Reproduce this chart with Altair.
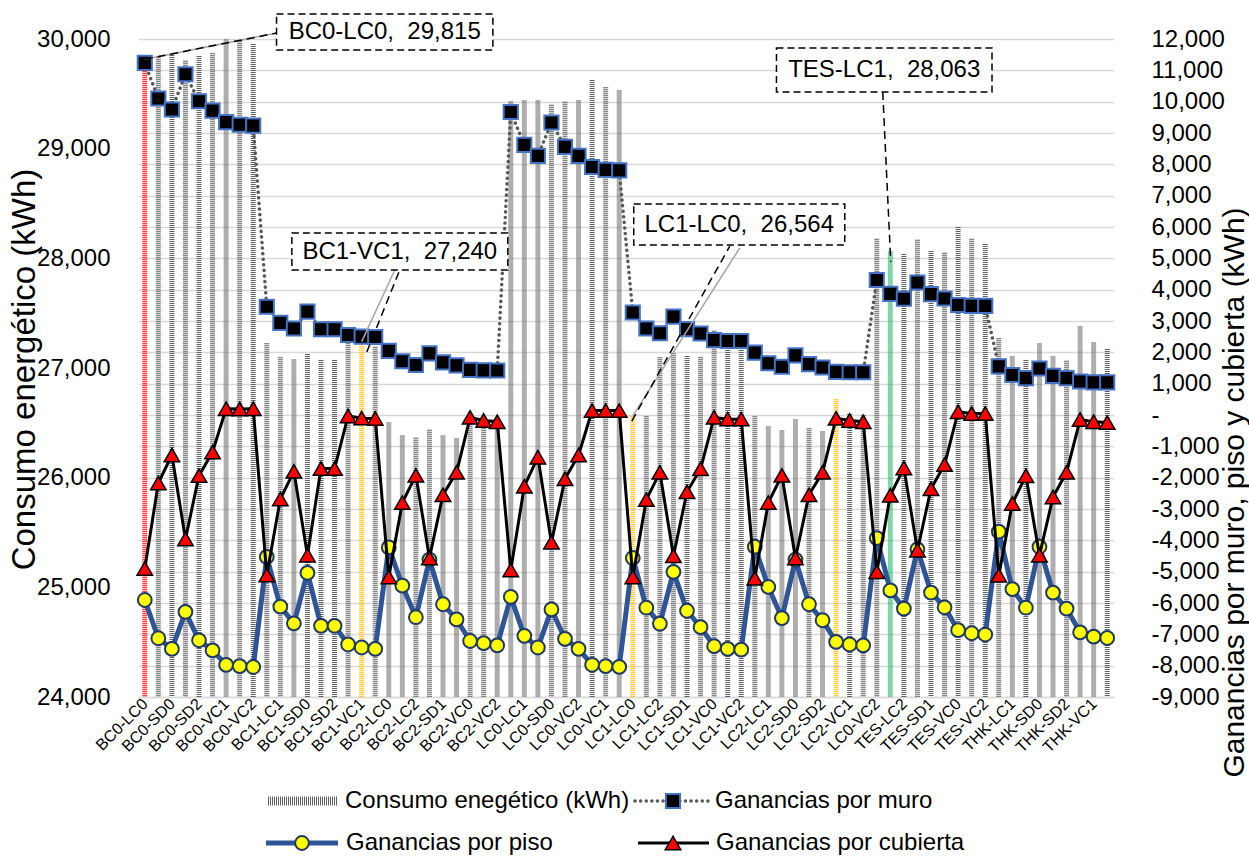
import altair as alt
import pandas as pd

# ---------------- data ----------------
consumo = [
    29815, 29833, 29854, 29802, 29845, 29870, 29995, 29985, 29955,
    27225, 27097, 27078, 27127, 27072, 27072, 27225, 27240, 27194,
    26503, 26384, 26365, 26436, 26384, 26357, 26582, 26542, 26522,
    29430, 29440, 29440, 29400, 29428, 29440, 29626, 29560, 29530,
    26564, 26560, 27097, 27134, 27110, 27097, 27340, 27163, 27163,
    26560, 26466, 26430, 26530, 26450, 26420, 26715, 26580, 26570,
    28178, 28063, 28040, 28170, 28068, 28052, 28285, 28178, 28131,
    27271, 27106, 27074, 27224, 27106, 27067, 27378, 27232, 27173]

muro = [
    11240, 10100, 9750, 10875, 10015, 9715, 9345, 9265, 9235,
    3455, 2940, 2760, 3297, 2735, 2735, 2553, 2500, 2490,
    2045, 1715, 1595, 1968, 1680, 1585, 1440, 1425, 1420,
    9670, 8620, 8270, 9336, 8555, 8270, 7915, 7825, 7805,
    3270, 2760, 2610, 3140, 2740, 2600, 2390, 2360, 2360,
    1990, 1650, 1540, 1905, 1625, 1515, 1378, 1363, 1363,
    4310, 3865, 3710, 4228, 3857, 3719, 3511, 3484, 3484,
    1551, 1276, 1179, 1483, 1248, 1179, 1068, 1041, 1041]

piso = [
    -5904, -7125, -7466, -6282, -7190, -7510, -7975, -8014, -8042,
    -4528, -6117, -6650, -5040, -6730, -6730, -7324, -7420, -7462,
    -4225, -5447, -6454, -4618, -6040, -6523, -7213, -7282, -7351,
    -5805, -7048, -7420, -6206, -7144, -7462, -7972, -8014, -8041,
    -4563, -6151, -6661, -5005, -6247, -6771, -7379, -7462, -7489,
    -4204, -5488, -6482, -4618, -6040, -6551, -7241, -7324, -7351,
    -3928, -5598, -6178, -4287, -5667, -6137, -6868, -6965, -7006,
    -3721, -5557, -6151, -4204, -5667, -6178, -6937, -7075, -7117]

cubierta = [
    -4900, -2172, -1278, -3960, -1935, -1181, 200, 190, 200,
    -5110, -2680, -1800, -4475, -1710, -1710, -30, -100, -110,
    -5170, -2796, -1927, -4563, -2548, -1830, -77, -174, -215,
    -4950, -2272, -1347, -4066, -2037, -1278, 140, 140, 140,
    -5170, -2700, -1830, -4494, -2451, -1720, -77, -132, -132,
    -5211, -2796, -1927, -4563, -2548, -1830, -105, -174, -215,
    -5005, -2562, -1692, -4315, -2355, -1582, 102, 47, 47,
    -5115, -2824, -1941, -4480, -2617, -1830, -146, -215, -243]

tick_labels = [
    "BC0-LC0", "BC0-SD0", "BC0-SD2", "BC0-VC1", "BC0-VC2", "BC1-LC1", "BC1-SD0",
    "BC1-SD2", "BC1-VC1", "BC2-LC0", "BC2-LC2", "BC2-SD1", "BC2-VC0", "BC2-VC2",
    "LC0-LC1", "LC0-SD0", "LC0-VC2", "LC0-VC1", "LC1-LC0", "LC1-LC2", "LC1-SD1",
    "LC1-VC0", "LC1-VC2", "LC2-LC1", "LC2-SD0", "LC2-SD2", "LC2-VC1", "LC0-VC2",
    "TES-LC2", "TES-SD1", "TES-VC0", "TES-VC2", "THK-LC1", "THK-SD0", "THK-SD2",
    "THK-VC1"]

series_names = ["Consumo enegético (kWh)", "Ganancias por muro",
                "Ganancias por piso", "Ganancias por cubierta"]

# annotated bars: index and name
annot_idx = [0, 16, 36, 55]
annot_names = ["BC0-LC0", "BC1-VC1", "LC1-LC0", "TES-LC1"]

# ---------------- styling ----------------
FONT = "Liberation Sans"
W, H = 976, 658
highlight = {0: "#FF0000", 16: "#FFC000", 36: "#FFC000", 51: "#FFC000", 55: "#00B050"}
BAR_GRAY = "#5f5f5f"

n = len(consumo)
idx = list(range(n))
bars = pd.DataFrame({"i": idx, "v": consumo,
                     "col": [highlight.get(k, BAR_GRAY) for k in idx]})
long = pd.DataFrame({
    "i": idx * 3,
    "s": ["muro"] * n + ["piso"] * n + ["cub"] * n,
    "v": muro + piso + cubierta,
})

lbl_js = "[" + ",".join("'%s'" % s for s in tick_labels) + "]"
x_axis = alt.Axis(
    values=list(range(0, n, 2)), labelExpr=lbl_js + "[round(datum.value / 2)]",
    labelAngle=-45, labelAlign="right", labelBaseline="middle", labelPadding=4,
    labelFontSize=16, labelColor="#000000", labelFlush=False, labelOverlap=False,
    grid=False, ticks=False, domain=True, domainColor="#D9D9D9", domainWidth=1.5,
    title=None)
x_scale = alt.Scale(domain=[-0.5, n - 0.5], nice=False, zero=False)

left_scale = alt.Scale(domain=[24000, 30000], nice=False, zero=False)
right_scale = alt.Scale(domain=[-9000, 12000], nice=False, zero=False)

left_axis = alt.Axis(
    values=list(range(24000, 30001, 1000)), labelExpr="format(datum.value, ',')",
    labelFontSize=24, labelColor="#000000", labelPadding=28, labelFlush=False,
    labelOverlap=False, grid=False, ticks=False, domain=False,
    title="Consumo energético (kWh)", titleFontSize=33, titleFontWeight="normal",
    titleColor="#000000", titleX=-114, titleY=330, titleAngle=270,
    titleBaseline="middle", titleAlign="center")

right_axis = alt.Axis(
    orient="right", values=list(range(-9000, 12001, 1000)),
    labelExpr="datum.value == 0 ? '-' : (datum.value < 0 ? '-' : '') + format(abs(datum.value), ',')",
    labelFontSize=24, labelColor="#000000", labelPadding=37, labelAlign="left",
    labelFlush=False, labelOverlap=False, grid=True, gridColor="#D9D9D9",
    gridWidth=1.5, ticks=False, domain=False,
    title="Ganancias por muro, piso y cubierta (kWh)", titleFontSize=30,
    titleFontWeight="normal", titleColor="#000000", titleX=120, titleY=453,
    titleAngle=270, titleBaseline="middle", titleAlign="center")

X = alt.X("i:Q", scale=x_scale, axis=x_axis)

# ---------------- bars (left axis) ----------------
bar_layer = alt.Chart(bars).mark_rule(strokeWidth=5, strokeDash=[1, 1]).encode(
    x=X,
    y=alt.Y("v:Q", scale=left_scale, axis=left_axis),
    y2=alt.datum(24000),
    color=alt.Color("col:N", scale=None),
)
left = alt.layer(bar_layer)

# ---------------- lines (right axis) ----------------
YR = alt.Y("v:Q", scale=right_scale, axis=right_axis)
rb = alt.Chart(long)
muro_line = rb.transform_filter("datum.s == 'muro'").mark_line(
    color="#595959", strokeWidth=3.5, strokeDash=[0.1, 5.5], strokeCap="round").encode(x=X, y=YR)
muro_pts = rb.transform_filter("datum.s == 'muro'").mark_point(
    shape="square", filled=True, fill="#000000", stroke="#4472C4", strokeWidth=2,
    size=200, opacity=1).encode(x=X, y=YR)
piso_line = rb.transform_filter("datum.s == 'piso'").mark_line(
    color="#2F5597", strokeWidth=5).encode(x=X, y=YR)
piso_pts = rb.transform_filter("datum.s == 'piso'").mark_point(
    shape="circle", filled=True, fill="#FFFF00", stroke="#1F3864", strokeWidth=2,
    size=190, opacity=1).encode(x=X, y=YR)
cub_line = rb.transform_filter("datum.s == 'cub'").mark_line(
    color="#000000", strokeWidth=3).encode(x=X, y=YR)
cub_pts = rb.transform_filter("datum.s == 'cub'").mark_point(
    shape="triangle-up", filled=True, fill="#FF0000", stroke="#000000", strokeWidth=1.5,
    size=240, opacity=1).encode(x=X, y=YR)
right = alt.layer(muro_line, muro_pts, piso_line, piso_pts, cub_line, cub_pts)

# ---------------- annotations (left-axis units) ----------------
annot_text = ["%s,\u00a0 %s" % (nm, format(consumo[k], ",")) for nm, k in zip(annot_names, annot_idx)]
boxes = pd.DataFrame({
    "x1": [9.72, 10.85, 36.07, 46.6],
    "x2": [25.68, 26.78, 51.64, 62.5],
    "y1": [30228, 28231, 28495, 29918],
    "y2": [29900, 27893, 28121, 29517],
    "t": annot_text,
})
boxes["xc"] = (boxes["x1"] + boxes["x2"]) / 2
boxes["yc"] = (boxes["y1"] + boxes["y2"]) / 2
leaders = pd.DataFrame({
    "x1": [0.0, 0.0, 16.0, 16.38, 36.0, 35.93, 54.44],
    "y1": [consumo[0], consumo[0], consumo[16], 27146, consumo[36], 26516, 29517],
    "x2": [9.74, 9.74, 18.44, 18.81, 43.89, 43.16, 55.03],
    "y2": [30055, 30055, 27894, 27894, 28094, 28112, 27966],
    "kind": ["gray", "dash", "gray", "dash", "gray", "dash", "dash"],
})
YA = lambda f: alt.Y(f, scale=left_scale, axis=None)
XA = lambda f: alt.X(f, scale=x_scale, axis=x_axis)
lead_gray = alt.Chart(leaders).transform_filter("datum.kind == 'gray'").mark_rule(
    color="#A6A6A6", strokeWidth=1.5).encode(
    x=XA("x1:Q"), x2="x2:Q", y=YA("y1:Q"), y2="y2:Q")
lead_dash = alt.Chart(leaders).transform_filter("datum.kind == 'dash'").mark_rule(
    color="#000000", strokeWidth=1.5, strokeDash=[8, 5]).encode(
    x=XA("x1:Q"), x2="x2:Q", y=YA("y1:Q"), y2="y2:Q")
box_layer = alt.Chart(boxes).mark_rect(
    fill="#FFFFFF", stroke="#000000", strokeWidth=1.5, strokeDash=[7, 4]).encode(
    x=XA("x1:Q"), x2="x2:Q", y=YA("y1:Q"), y2="y2:Q")
box_text = alt.Chart(boxes).mark_text(
    font=FONT, fontSize=24, color="#000000", align="center", baseline="middle").encode(
    x=XA("xc:Q"), y=YA("yc:Q"), text="t:N")
annot = alt.layer(lead_gray, lead_dash, box_layer, box_text)

# ---------------- manual legend (pixel positions below the plot) ----------------
one = pd.DataFrame({"k": [0]})
def lg_text(label, px, py):
    return alt.Chart(pd.DataFrame({"t": [label]})).mark_text(
        font=FONT, fontSize=24, color="#000000", align="left", baseline="middle").encode(
        x=alt.value(px), y=alt.value(py), text="t:N")

r1, r2 = 762, 804
legend = alt.layer(
    alt.Chart(one).mark_rule(color=BAR_GRAY, strokeWidth=9, strokeDash=[1, 1]).encode(
        x=alt.value(130), x2=alt.value(200), y=alt.value(r1)),
    lg_text(series_names[0], 207, r1),
    alt.Chart(one).mark_rule(color="#595959", strokeWidth=3.5, strokeDash=[0.1, 5.5],
                             strokeCap="round").encode(
        x=alt.value(497), x2=alt.value(574), y=alt.value(r1)),
    alt.Chart(one).mark_point(shape="square", filled=True, fill="#000000", stroke="#4472C4",
                              strokeWidth=2, size=200, opacity=1).encode(
        x=alt.value(535), y=alt.value(r1)),
    lg_text(series_names[1], 577, r1),
    alt.Chart(one).mark_rule(color="#2F5597", strokeWidth=5).encode(
        x=alt.value(128), x2=alt.value(200), y=alt.value(r2)),
    alt.Chart(one).mark_point(shape="circle", filled=True, fill="#FFFF00", stroke="#1F3864",
                              strokeWidth=2, size=190, opacity=1).encode(
        x=alt.value(164), y=alt.value(r2)),
    lg_text(series_names[2], 208, r2),
    alt.Chart(one).mark_rule(color="#000000", strokeWidth=3).encode(
        x=alt.value(500), x2=alt.value(571), y=alt.value(r2)),
    alt.Chart(one).mark_point(shape="triangle-up", filled=True, fill="#FF0000", stroke="#000000",
                              strokeWidth=1.5, size=240, opacity=1).encode(
        x=alt.value(535), y=alt.value(r2)),
    lg_text(series_names[3], 578, r2),
)

chart = alt.layer(left, right, annot, legend).resolve_scale(y="independent").properties(
    width=W, height=H,
    autosize=alt.AutoSizeParams(type="none"),
    padding={"left": 138, "top": 39, "right": 135, "bottom": 159},
    background="#FFFFFF",
).configure_view(stroke=None).configure_axis(labelFont=FONT, titleFont=FONT)

chart.save("out.html", embed_options={"renderer": "svg", "actions": False})
